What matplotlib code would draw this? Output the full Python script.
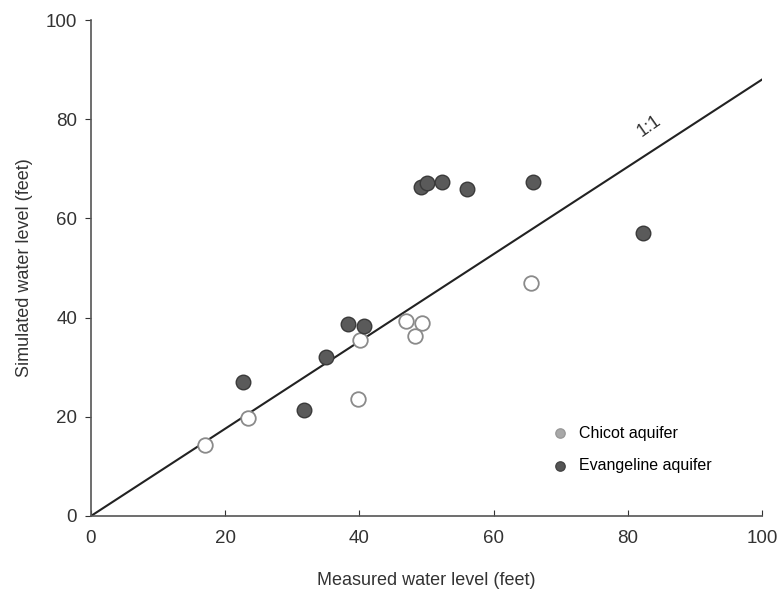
import numpy as np
import matplotlib
matplotlib.use('Agg')
import matplotlib.pyplot as plt

plt.rcParams['font.family'] = ['Liberation Sans', 'DejaVu Sans']

# Chicot aquifer (open circles)
chicot_measured = [17.0, 23.4, 39.8, 40.1, 46.9, 49.3, 48.3, 65.6]
chicot_simulated = [14.3, 19.8, 23.6, 35.5, 39.3, 38.9, 36.3, 47.0]

# Evangeline aquifer (dark circles)
evang_measured = [22.6, 31.7, 35.0, 38.3, 40.7, 49.2, 50.1, 52.3, 56.0, 65.9, 82.3]
evang_simulated = [27.0, 21.4, 32.0, 38.7, 38.3, 66.3, 67.1, 67.3, 65.9, 67.3, 57.1]

# reference line as drawn in the original
line_x = [0, 100]
line_y = [0, 88]

fig = plt.figure(figsize=(7.81, 5.92), dpi=100)
ax = fig.add_axes([0.1165, 0.1284, 0.8592, 0.8378])

ax.plot(line_x, line_y, color='#222222', lw=1.5, zorder=1)

ax.scatter(chicot_measured, chicot_simulated, s=110, facecolor='white',
           edgecolor='#8a8a8a', linewidth=1.3, zorder=3)
ax.scatter(evang_measured, evang_simulated, s=110, facecolor='#5a5a5a',
           edgecolor='#3a3a3a', linewidth=1.0, zorder=3)

ax.text(83.2, 78.5, '1:1', rotation=35, fontsize=13, color='#333333',
        ha='center', va='center')

# legend
ax.scatter([], [], s=45, facecolor='#a8a8a8', edgecolor='#999999', label='Chicot aquifer')
ax.scatter([], [], s=45, facecolor='#555555', edgecolor='#444444', label='Evangeline aquifer')
ax.legend(loc='upper left', bbox_to_anchor=(0.665, 0.195), frameon=False,
          fontsize=11.5, handletextpad=0.2, labelspacing=1.1, borderaxespad=0)

ax.set_xlim(0, 100)
ax.set_ylim(0, 100)
ax.set_xticks([0, 20, 40, 60, 80, 100])
ax.set_yticks([0, 20, 40, 60, 80, 100])
ax.tick_params(labelsize=13.5, colors='#333333')
ax.tick_params(axis='x', direction='in', length=4, pad=10)
ax.tick_params(axis='y', direction='out', length=4, pad=6)
for side in ['top', 'right']:
    ax.spines[side].set_visible(False)
for side in ['left', 'bottom']:
    ax.spines[side].set_color('#555555')
    ax.spines[side].set_linewidth(1.2)

ax.set_xlabel('Measured water level (feet)', fontsize=13, color='#333333', labelpad=18)
ax.set_ylabel('Simulated water level (feet)', fontsize=13, color='#333333', labelpad=9)

fig.savefig('out.png', dpi=100)
